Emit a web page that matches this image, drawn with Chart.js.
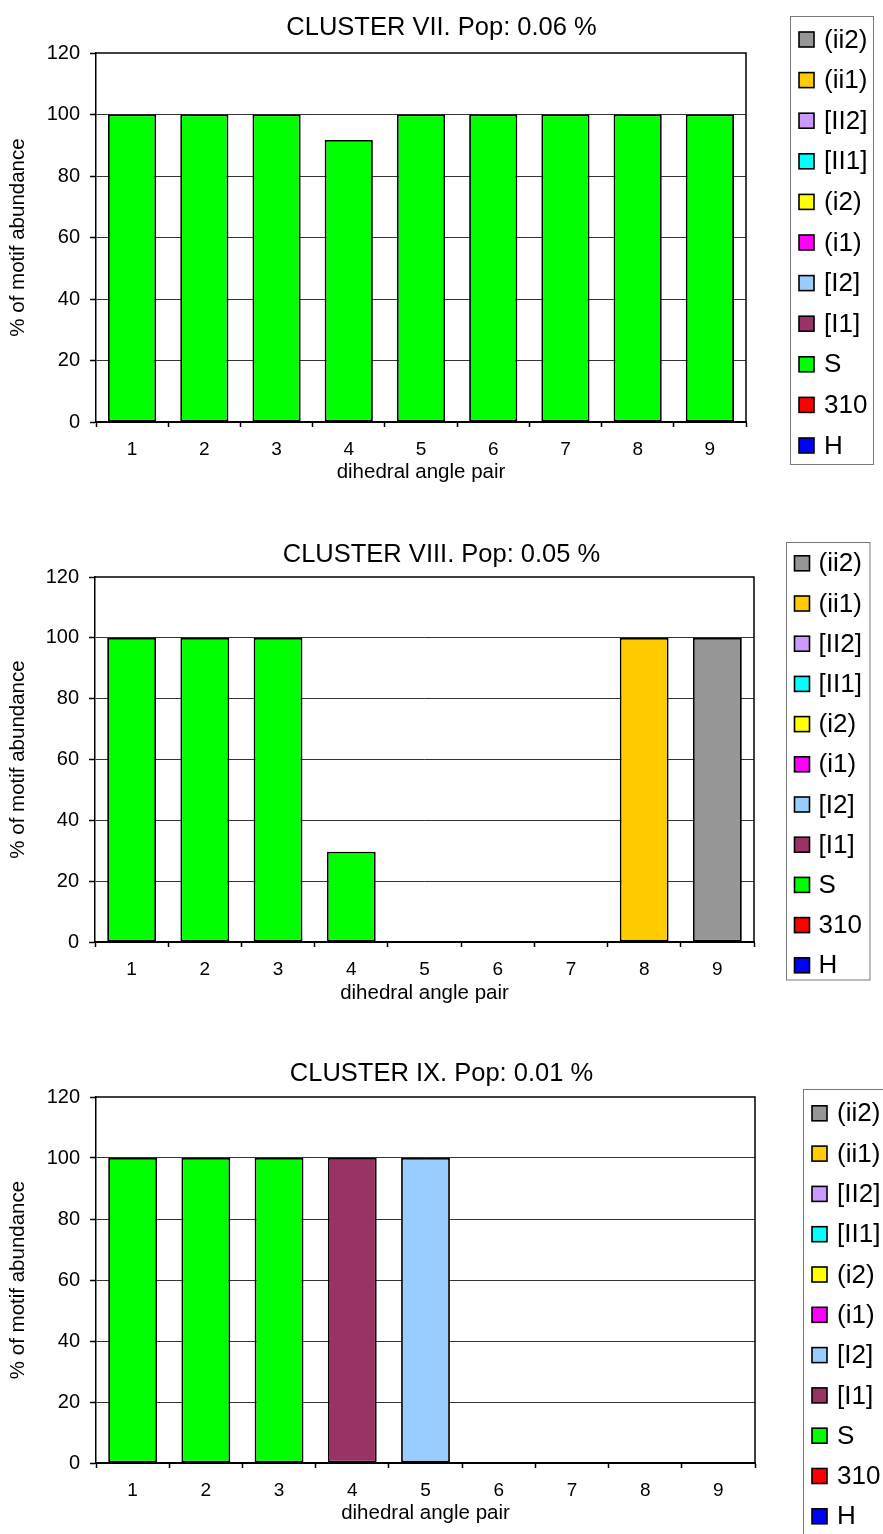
<!DOCTYPE html>
<html>
<head>
<meta charset="utf-8">
<title>Cluster motif abundance</title>
<script src="https://cdn.jsdelivr.net/npm/chart.js@4.4.1/dist/chart.umd.min.js"></script>
<style>
  html, body { margin: 0; padding: 0; background: #fff; }
  #page { position: relative; width: 883px; height: 1534px; overflow: hidden; background: #fff; }
  canvas { position: absolute; left: 0; display: block; }
</style>
</head>
<body>
<div id="page">
  <canvas id="c7" width="883" height="500" style="top:0px"></canvas>
  <canvas id="c8" width="883" height="500" style="top:524px"></canvas>
  <canvas id="c9" width="883" height="490" style="top:1044px"></canvas>
</div>
<script>
// ---- data ----
const categories = ['1', '2', '3', '4', '5', '6', '7', '8', '9'];
const seriesNames = ['H', '310', 'S', '[I1]', '[I2]', '(i1)', '(i2)', '[II1]', '[II2]', '(ii1)', '(ii2)'];
const yTicks = [0, 20, 40, 60, 80, 100, 120];
const zeros = [0, 0, 0, 0, 0, 0, 0, 0, 0];

// CLUSTER VII
const c7Title = 'CLUSTER VII. Pop: 0.06 %';
const c7_S = [100, 100, 100, 91.7, 100, 100, 100, 100, 100];

// CLUSTER VIII
const c8Title = 'CLUSTER VIII. Pop: 0.05 %';
const c8_S = [100, 100, 100, 29.7, 0, 0, 0, 0, 0];
const c8_ii1 = [0, 0, 0, 0, 0, 0, 0, 100, 0];
const c8_ii2 = [0, 0, 0, 0, 0, 0, 0, 0, 100];

// CLUSTER IX
const c9Title = 'CLUSTER IX. Pop: 0.01 %';
const c9_S = [100, 100, 100, 0, 0, 0, 0, 0, 0];
const c9_I1 = [0, 0, 0, 100, 0, 0, 0, 0, 0];
const c9_I2 = [0, 0, 0, 0, 100, 0, 0, 0, 0];

// ---- styling ----
const seriesColors = {
  'H': '#0000FF', '310': '#FF0000', 'S': '#00FF00', '[I1]': '#993366', '[I2]': '#99CCFF',
  '(i1)': '#FF00FF', '(i2)': '#FFFF00', '[II1]': '#00FFFF', '[II2]': '#CC99FF',
  '(ii1)': '#FFCC00', '(ii2)': '#969696'
};
const FONT = "'Liberation Sans', Arial, Helvetica, sans-serif";
Chart.defaults.font.family = FONT;
Chart.defaults.color = '#000';

// white background + frame round the plot area
const plotFrame = {
  id: 'plotFrame',
  beforeDraw(chart) {
    const c = chart.ctx;
    c.save();
    c.fillStyle = '#fff';
    c.fillRect(0, 0, chart.width, chart.height);
    c.restore();
  },
  beforeDatasetsDraw(chart) {
    const a = chart.chartArea, c = chart.ctx;
    c.save();
    c.strokeStyle = '#000';
    c.lineWidth = 1.5;
    c.beginPath();
    c.moveTo(a.left, a.top);
    c.lineTo(a.right, a.top);
    c.lineTo(a.right, a.bottom);
    c.stroke();
    c.restore();
  }
};

// boxed legend, listed top-down in reverse stacking order
const boxedLegend = {
  id: 'boxedLegend',
  afterDraw(chart, args, o) {
    const c = chart.ctx;
    c.save();
    c.fillStyle = '#fff';
    c.fillRect(o.x, o.y, o.w, o.h);
    c.strokeStyle = '#7a7a7a';
    c.lineWidth = 1;
    c.strokeRect(Math.round(o.x) + 0.5, Math.round(o.y) + 0.5, o.w, o.h);
    const items = chart.data.datasets.slice().reverse();
    c.font = o.fontSize + 'px ' + FONT;
    c.textBaseline = 'middle';
    c.textAlign = 'left';
    items.forEach((d, i) => {
      const cy = o.first + i * o.step;
      const s = o.sw;
      c.fillStyle = d.backgroundColor;
      c.fillRect(o.sx, cy - s / 2, s, s);
      c.strokeStyle = '#000';
      c.lineWidth = 1.6;
      c.strokeRect(o.sx, cy - s / 2, s, s);
      c.fillStyle = '#000';
      c.fillText(d.label, o.tx, cy + 1);
    });
    c.restore();
  }
};

function makeChart(id, title, seriesMap, L) {
  const canvas = document.getElementById(id);
  const H = canvas.height;
  const titleSize = 25.5, titleLH = titleSize * 1.2;
  const padTop = L.titleCenter - titleLH / 2;
  const padBottom = L.plotTop - padTop - titleLH;
  const axSize = 20.5, axTitleLH = axSize * 1.2;

  const datasets = seriesNames.map(name => ({
    label: name,
    data: (seriesMap[name] || zeros).map(v => (v === 0 ? null : v)),
    backgroundColor: seriesColors[name],
    borderColor: '#000',
    borderWidth: 1.8,
    borderSkipped: false,
    barPercentage: 0.667,
    categoryPercentage: 1.0
  }));

  return new Chart(canvas, {
    type: 'bar',
    data: { labels: categories, datasets },
    options: {
      responsive: false,
      animation: false,
      events: [],
      layout: { padding: 0 },
      plugins: {
        legend: { display: false },
        tooltip: { enabled: false },
        title: {
          display: true,
          text: title,
          color: '#000',
          font: { size: titleSize, weight: 'normal', family: FONT },
          padding: { top: padTop, bottom: padBottom }
        },
        boxedLegend: L.legend
      },
      scales: {
        x: {
          stacked: true,
          offset: true,
          grid: {
            display: true, drawOnChartArea: false, drawTicks: true,
            tickLength: 5, tickColor: '#000', tickWidth: 1.5, offset: true
          },
          border: { display: true, color: '#000', width: 2 },
          ticks: { color: '#000', font: { size: 19 }, padding: 11, maxRotation: 0, autoSkip: false },
          title: {
            display: true, text: 'dihedral angle pair', color: '#000',
            font: { size: axSize },
            padding: { top: 0, bottom: H - L.xTitleCenter - axTitleLH / 2 }
          },
          afterFit: s => { s.height = H - L.plotBottom; }
        },
        y: {
          stacked: true,
          min: yTicks[0],
          max: yTicks[yTicks.length - 1],
          ticks: { stepSize: yTicks[1] - yTicks[0], color: '#000', font: { size: 20 }, padding: 10 },
          grid: {
            color: c => (c.tick && (c.tick.value === yTicks[0] || c.tick.value === yTicks[yTicks.length - 1])) ? 'rgba(0,0,0,0)' : '#333',
            lineWidth: 1,
            tickLength: 6, tickColor: '#000', tickWidth: 1.5
          },
          border: { display: true, color: '#000', width: 1.5 },
          title: {
            display: true, text: '% of motif abundance', color: '#000',
            font: { size: axSize },
            padding: { top: 6, bottom: 0 }
          },
          afterFit: s => { s.width = L.plotLeft; }
        },
        side: {
          type: 'linear',
          position: 'right',
          display: true,
          grid: { display: false },
          border: { display: false },
          ticks: { display: false },
          afterFit: s => { s.width = 883 - L.plotRight; }
        }
      }
    },
    plugins: [plotFrame, boxedLegend]
  });
}

makeChart('c7', c7Title, { 'S': c7_S }, {
  titleCenter: 28, plotTop: 53, plotBottom: 422, plotLeft: 96, plotRight: 746, xTitleCenter: 472,
  legend: { x: 790, y: 16, w: 83, h: 448, sx: 799, sw: 15, first: 39.5, step: 40.6, tx: 824, fontSize: 26 }
});

makeChart('c8', c8Title, { 'S': c8_S, '(ii1)': c8_ii1, '(ii2)': c8_ii2 }, {
  titleCenter: 31, plotTop: 53, plotBottom: 418, plotLeft: 95, plotRight: 754, xTitleCenter: 469,
  legend: { x: 786, y: 17.5, w: 83.5, h: 437.5, sx: 794.5, sw: 15, first: 39.3, step: 40.2, tx: 818.5, fontSize: 26 }
});

makeChart('c9', c9Title, { 'S': c9_S, '[I1]': c9_I1, '[I2]': c9_I2 }, {
  titleCenter: 30, plotTop: 53, plotBottom: 419, plotLeft: 96, plotRight: 755, xTitleCenter: 469,
  legend: { x: 803, y: 45, w: 120, h: 520, sx: 812, sw: 15, first: 69.3, step: 40.3, tx: 837, fontSize: 26 }
});
</script>
</body>
</html>
